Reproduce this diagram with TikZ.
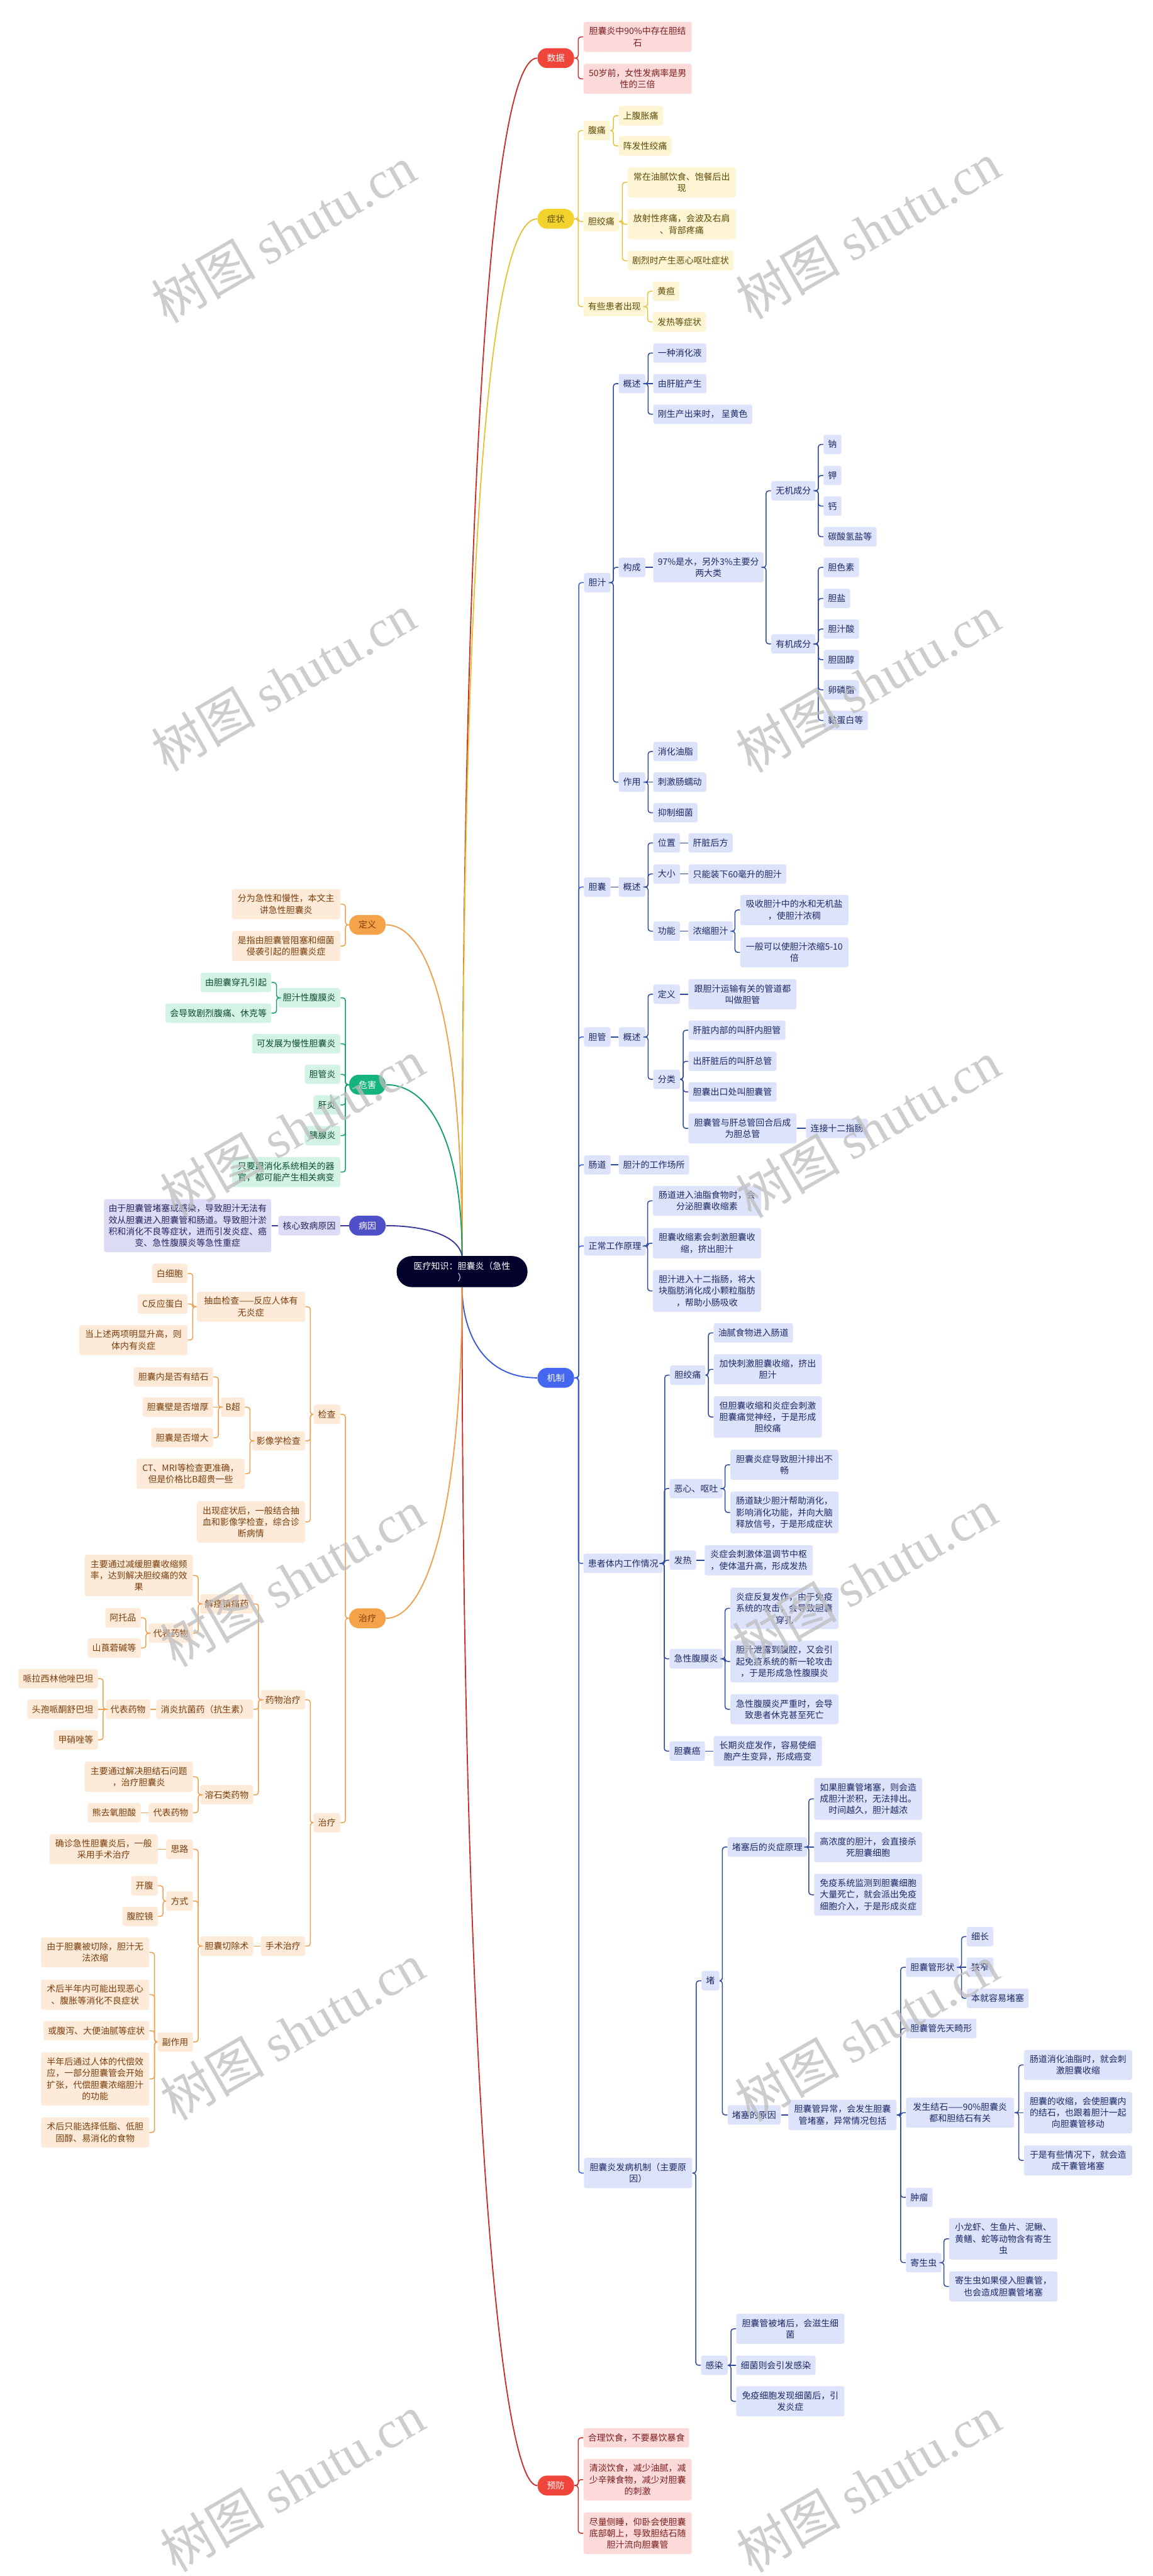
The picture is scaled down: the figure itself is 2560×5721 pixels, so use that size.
\documentclass[tikz,border=0pt]{standalone}
\usepackage{fontspec}
\setmainfont{Noto Sans CJK SC}
\newfontfamily\wmlat{Liberation Serif}
\usetikzlibrary{calc}
\definecolor{rootc}{HTML}{02012B}
\definecolor{redP}{HTML}{F0453A}
\definecolor{redL}{HTML}{C8302C}
\definecolor{redF}{HTML}{FDDADA}
\definecolor{redT}{HTML}{7B1E1E}
\definecolor{yelP}{HTML}{F2D22C}
\definecolor{yelL}{HTML}{E3C33A}
\definecolor{yelF}{HTML}{FDF5D3}
\definecolor{yelT}{HTML}{5E4A05}
\definecolor{bluP}{HTML}{4566EE}
\definecolor{bluL}{HTML}{3A5BD8}
\definecolor{bluD}{HTML}{2D4A9C}
\definecolor{bluF}{HTML}{DCE3FB}
\definecolor{bluT}{HTML}{1C2A66}
\definecolor{orP}{HTML}{F5A34A}
\definecolor{orL}{HTML}{EFA04E}
\definecolor{orF}{HTML}{FDEAD8}
\definecolor{orT}{HTML}{7A3E0C}
\definecolor{grP}{HTML}{14B47C}
\definecolor{grL}{HTML}{12A070}
\definecolor{grF}{HTML}{D3F4E5}
\definecolor{grT}{HTML}{0C4A31}
\definecolor{puP}{HTML}{4F4FC8}
\definecolor{puL}{HTML}{3A3A9E}
\definecolor{puF}{HTML}{DCDCF6}
\definecolor{puT}{HTML}{24245E}
\definecolor{wmc}{HTML}{BDBDBD}
\newcommand\nodefont{\fontsize{5.55pt}{7.25pt}\selectfont}
\newcommand\brR[3]{\foreach \ch in {#3}{\draw[#1] let \p1=(#2.east), \p2=(\ch.west) in (\p1) -- (\x2-3.13pt,\y1) -- (\x2-3.13pt,\y2) -- (\p2);}}
\newcommand\brL[3]{\foreach \ch in {#3}{\draw[#1] let \p1=(#2.west), \p2=(\ch.east) in (\p1) -- (\x2+3.13pt,\y1) -- (\x2+3.13pt,\y2) -- (\p2);}}
\newcommand\stR[3]{\draw[#1] (#2.east) -- (#3.west);}
\newcommand\stL[3]{\draw[#1] (#2.west) -- (#3.east);}
\tikzset{
  nb/.style={font=\nodefont, inner xsep=2.85pt, inner ysep=3.3pt, minimum height=0.43cm, rounded corners=1.3pt, align=center},
  wide/.style={minimum width=2.4cm},
  rN/.style={nb, fill=redF, text=redT},
  yN/.style={nb, fill=yelF, text=yelT},
  bN/.style={nb, fill=bluF, text=bluT},
  oN/.style={nb, fill=orF, text=orT},
  gN/.style={nb, fill=grF, text=grT},
  pN/.style={nb, fill=puF, text=puT},
  pill/.style={font=\nodefont, inner xsep=5.97pt, inner ysep=3.3pt, minimum height=0.44cm, rounded corners=0.21cm},
  rootbox/.style={font=\nodefont, fill=rootc, text=white, inner xsep=10.8pt, inner ysep=3.4pt, rounded corners=0.34cm, align=center, minimum height=0.69cm},
  cv/.style={line width=0.75pt},
  ln/.style={line width=0.6pt, rounded corners=1.7pt},
  wm/.style={text=wmc, text opacity=0.75, rotate=30, inner sep=0pt},
}
\begin{document}
\begin{tikzpicture}[x=0.01cm,y=-0.01cm]
\fill[white] (0,0) rectangle (2560,5721);
\useasboundingbox (0,0) rectangle (2560,5721);

% root
\node[rootbox] (root) at (1026,2824) {医疗知识：胆囊炎（急性\\）};

% level 1 pills
\node[pill, fill=redP, text=white, anchor=west] (sj) at (1193,129) {数据};
\node[pill, fill=yelP, text=yelT, anchor=west] (zz) at (1193,486) {症状};
\node[pill, fill=bluP, text=white, anchor=west] (jz) at (1193,3060) {机制};
\node[pill, fill=redP, text=white, anchor=west] (yf) at (1193,5520) {预防};
\node[pill, fill=orP, text=orT, anchor=east] (dy) at (857,2054) {定义};
\node[pill, fill=grP, text=white, anchor=east] (wh) at (857,2409) {危害};
\node[pill, fill=puP, text=white, anchor=east] (by) at (857,2722) {病因};
\node[pill, fill=orP, text=orT, anchor=east] (zl) at (857,3594) {治疗};

\draw[cv, redL] (root.north) .. controls (1026,1100) and (1090,129) .. (sj.west);
\draw[cv, yelL] (root.north) .. controls (1026,1300) and (1080,486) .. (zz.west);
\draw[cv, bluL] (root.south) .. controls (1026,2940) and (1060,3060) .. (jz.west);
\draw[cv, redL] (root.south) .. controls (1026,4600) and (1110,5520) .. (yf.west);
\draw[cv, orL] (dy.east) .. controls (960,2054) and (1026,2300) .. (root.north);
\draw[cv, grL] (wh.east) .. controls (960,2409) and (1026,2550) .. (root.north);
\draw[cv, puL] (by.east) .. controls (920,2722) and (1015,2735) .. (root.north);
\draw[cv, orL] (zl.east) .. controls (960,3594) and (1026,3300) .. (root.south);

% ===== 数据
\node[rN, wide, anchor=west] (sj1) at (1295,82) {胆囊炎中90\%中存在胆结\\石};
\node[rN, wide, anchor=west] (sj2) at (1295,175) {50岁前，女性发病率是男\\性的三倍};
\brR{ln, redL}{sj}{sj1,sj2}

% ===== 症状
\node[yN, anchor=west] (zz1) at (1295,290) {腹痛};
\node[yN, anchor=west] (zz11) at (1373,257) {上腹胀痛};
\node[yN, anchor=west] (zz12) at (1373,324) {阵发性绞痛};
\node[yN, anchor=west] (zz2) at (1295,492) {胆绞痛};
\node[yN, wide, anchor=west] (zz21) at (1393,405) {常在油腻饮食、饱餐后出\\现};
\node[yN, wide, anchor=west] (zz22) at (1393,498) {放射性疼痛，会波及右肩\\、背部疼痛};
\node[yN, anchor=west] (zz23) at (1393,579) {剧烈时产生恶心呕吐症状};
\node[yN, anchor=west] (zz3) at (1295,681) {有些患者出现};
\node[yN, anchor=west] (zz31) at (1449,647) {黄疸};
\node[yN, anchor=west] (zz32) at (1449,715) {发热等症状};
\brR{ln, yelL}{zz}{zz1,zz2,zz3}
\brR{ln, yelL}{zz1}{zz11,zz12}
\brR{ln, yelL}{zz2}{zz21,zz22,zz23}
\brR{ln, yelL}{zz3}{zz31,zz32}

% ===== 机制 : 胆汁
\node[bN, anchor=west] (dz) at (1296,1294) {胆汁};
\node[bN, anchor=west] (dz1) at (1373,852) {概述};
\node[bN, anchor=west] (dz11) at (1450,784) {一种消化液};
\node[bN, anchor=west] (dz12) at (1450,852) {由肝脏产生};
\node[bN, anchor=west] (dz13) at (1450,920) {刚生产出来时，\ 呈黄色};
\node[bN, anchor=west] (dz2) at (1373,1260) {构成};
\node[bN, wide, anchor=west] (dz21) at (1450,1260) {97\%是水，另外3\%主要分\\两大类};
\node[bN, anchor=west] (wj) at (1712,1090) {无机成分};
\node[bN, anchor=west] (wj1) at (1828,987) {钠};
\node[bN, anchor=west] (wj2) at (1828,1056) {钾};
\node[bN, anchor=west] (wj3) at (1828,1124) {钙};
\node[bN, anchor=west] (wj4) at (1828,1192) {碳酸氢盐等};
\node[bN, anchor=west] (yj) at (1712,1430) {有机成分};
\node[bN, anchor=west] (yj1) at (1828,1260) {胆色素};
\node[bN, anchor=west] (yj2) at (1828,1329) {胆盐};
\node[bN, anchor=west] (yj3) at (1828,1397) {胆汁酸};
\node[bN, anchor=west] (yj4) at (1828,1465) {胆固醇};
\node[bN, anchor=west] (yj5) at (1828,1532) {卵磷脂};
\node[bN, anchor=west] (yj6) at (1828,1600) {黏蛋白等};
\node[bN, anchor=west] (dz3) at (1373,1737) {作用};
\node[bN, anchor=west] (dz31) at (1450,1669) {消化油脂};
\node[bN, anchor=west] (dz32) at (1450,1737) {刺激肠蠕动};
\node[bN, anchor=west] (dz33) at (1450,1805) {抑制细菌};

% 胆囊
\node[bN, anchor=west] (dn) at (1296,1970) {胆囊};
\node[bN, anchor=west] (dn1) at (1373,1970) {概述};
\node[bN, anchor=west] (dn11) at (1450,1872) {位置};
\node[bN, anchor=west] (dn111) at (1528,1872) {肝脏后方};
\node[bN, anchor=west] (dn12) at (1450,1941) {大小};
\node[bN, anchor=west] (dn121) at (1528,1941) {只能装下60毫升的胆汁};
\node[bN, anchor=west] (dn13) at (1450,2068) {功能};
\node[bN, anchor=west] (dn131) at (1528,2068) {浓缩胆汁};
\node[bN, wide, anchor=west] (dn1311) at (1643,2021) {吸收胆汁中的水和无机盐\\，使胆汁浓稠};
\node[bN, wide, anchor=west] (dn1312) at (1643,2115) {一般可以使胆汁浓缩5-10\\倍};

% 胆管
\node[bN, anchor=west] (dg) at (1296,2303) {胆管};
\node[bN, anchor=west] (dg1) at (1373,2303) {概述};
\node[bN, anchor=west] (dg11) at (1450,2208) {定义};
\node[bN, wide, anchor=west] (dg111) at (1528,2208) {跟胆汁运输有关的管道都\\叫做胆管};
\node[bN, anchor=west] (dg12) at (1450,2397) {分类};
\node[bN, anchor=west] (dg121) at (1528,2288) {肝脏内部的叫肝内胆管};
\node[bN, anchor=west] (dg122) at (1528,2357) {出肝脏后的叫肝总管};
\node[bN, anchor=west] (dg123) at (1528,2425) {胆囊出口处叫胆囊管};
\node[bN, wide, anchor=west] (dg124) at (1528,2506) {胆囊管与肝总管回合后成\\为胆总管};
\node[bN, anchor=west] (dg1241) at (1789,2506) {连接十二指肠};

% 肠道, 正常工作原理
\node[bN, anchor=west] (cd) at (1296,2587) {肠道};
\node[bN, anchor=west] (cd1) at (1373,2587) {胆汁的工作场所};
\node[bN, anchor=west] (zc) at (1296,2767) {正常工作原理};
\node[bN, wide, anchor=west] (zc1) at (1449,2667) {肠道进入油脂食物时，会\\分泌胆囊收缩素};
\node[bN, wide, anchor=west] (zc2) at (1449,2761) {胆囊收缩素会刺激胆囊收\\缩，挤出胆汁};
\node[bN, wide, anchor=west] (zc3) at (1449,2867) {胆汁进入十二指肠，将大\\块脂肪消化成小颗粒脂肪\\，帮助小肠吸收};

% 患者体内工作情况
\node[bN, anchor=west] (hz) at (1295,3472) {患者体内工作情况};
\node[bN, anchor=west] (hz1) at (1487,3054) {胆绞痛};
\node[bN, anchor=west] (hz11) at (1584,2960) {油腻食物进入肠道};
\node[bN, wide, anchor=west] (hz12) at (1584,3041) {加快刺激胆囊收缩，挤出\\胆汁};
\node[bN, wide, anchor=west] (hz13) at (1584,3147) {但胆囊收缩和炎症会刺激\\胆囊痛觉神经，于是形成\\胆绞痛};
\node[bN, anchor=west] (hz2) at (1486,3306) {恶心、呕吐};
\node[bN, wide, anchor=west] (hz21) at (1621,3253) {胆囊炎症导致胆汁排出不\\畅};
\node[bN, wide, anchor=west] (hz22) at (1621,3359) {肠道缺少胆汁帮助消化，\\影响消化功能，并向大脑\\释放信号，于是形成症状};
\node[bN, anchor=west] (hz3) at (1486,3465) {发热};
\node[bN, wide, anchor=west] (hz31) at (1564,3465) {炎症会刺激体温调节中枢\\，使体温升高，形成发热};
\node[bN, anchor=west] (hz4) at (1486,3684) {急性腹膜炎};
\node[bN, wide, anchor=west] (hz41) at (1621,3572) {炎症反复发作，由于免疫\\系统的攻击，会导致胆囊\\穿孔};
\node[bN, wide, anchor=west] (hz42) at (1621,3690) {胆汁泄露到腹腔，又会引\\起免疫系统的新一轮攻击\\，于是形成急性腹膜炎};
\node[bN, wide, anchor=west] (hz43) at (1621,3796) {急性腹膜炎严重时，会导\\致患者休克甚至死亡};
\node[bN, anchor=west] (hz5) at (1486,3889) {胆囊癌};
\node[bN, wide, anchor=west] (hz51) at (1584,3889) {长期炎症发作，容易使细\\胞产生变异，形成癌变};

% 胆囊炎发病机制
\node[bN, wide, anchor=west] (fb) at (1296,4826) {胆囊炎发病机制（主要原\\因）};
\node[bN, anchor=west] (fb1) at (1557,4399) {堵};
\node[bN, anchor=west] (fb11) at (1615,4102) {堵塞后的炎症原理};
\node[bN, wide, anchor=west] (fb111) at (1807,3995) {如果胆囊管堵塞，则会造\\成胆汁淤积，无法排出。\\时间越久，胆汁越浓};
\node[bN, wide, anchor=west] (fb112) at (1807,4102) {高浓度的胆汁，会直接杀\\死胆囊细胞};
\node[bN, wide, anchor=west] (fb113) at (1807,4208) {免疫系统监测到胆囊细胞\\大量死亡，就会派出免疫\\细胞介入，于是形成炎症};
\node[bN, anchor=west] (fb12) at (1615,4697) {堵塞的原因};
\node[bN, wide, anchor=west] (fb121) at (1750,4697) {胆囊管异常，会发生胆囊\\管堵塞，异常情况包括};
\node[bN, anchor=west] (fa1) at (2011,4369) {胆囊管形状};
\node[bN, anchor=west] (fa11) at (2146,4301) {细长};
\node[bN, anchor=west] (fa12) at (2146,4369) {狭窄};
\node[bN, anchor=west] (fa13) at (2146,4438) {本就容易堵塞};
\node[bN, anchor=west] (fa2) at (2011,4505) {胆囊管先天畸形};
\node[bN, wide, anchor=west] (fa3) at (2011,4692) {发生结石——90\%胆囊炎\\都和胆结石有关};
\node[bN, wide, anchor=west] (fa31) at (2273,4586) {肠道消化油脂时，就会刺\\激胆囊收缩};
\node[bN, wide, anchor=west] (fa32) at (2273,4692) {胆囊的收缩，会使胆囊内\\的结石，也跟着胆汁一起\\向胆囊管移动};
\node[bN, wide, anchor=west] (fa33) at (2273,4798) {于是有些情况下，就会造\\成干囊管堵塞};
\node[bN, anchor=west] (fa4) at (2011,4880) {肿瘤};
\node[bN, anchor=west] (fa5) at (2011,5025) {寄生虫};
\node[bN, wide, anchor=west] (fa51) at (2107,4972) {小龙虾、生鱼片、泥鳅、\\黄鳝、蛇等动物含有寄生\\虫};
\node[bN, wide, anchor=west] (fa52) at (2107,5078) {寄生虫如果侵入胆囊管，\\也会造成胆囊管堵塞};
\node[bN, anchor=west] (fb2) at (1556,5253) {感染};
\node[bN, wide, anchor=west] (fb21) at (1634,5172) {胆囊管被堵后，会滋生细\\菌};
\node[bN, anchor=west] (fb22) at (1634,5253) {细菌则会引发感染};
\node[bN, wide, anchor=west] (fb23) at (1634,5333) {免疫细胞发现细菌后，引\\发炎症};

% 机制 connectors
\brR{ln, bluL}{jz}{dz,dn,dg,cd,zc,hz,fb}
\brR{ln, bluD}{dz}{dz1,dz2,dz3}
\brR{ln, bluD}{dz1}{dz11,dz13}
\stR{ln, bluD}{dz1}{dz12}
\stR{ln, bluD}{dz2}{dz21}
\brR{ln, bluD}{dz21}{wj,yj}
\brR{ln, bluD}{wj}{wj1,wj2,wj3,wj4}
\brR{ln, bluD}{yj}{yj1,yj2,yj3,yj4,yj5,yj6}
\brR{ln, bluD}{dz3}{dz31,dz33}
\stR{ln, bluD}{dz3}{dz32}
\stR{ln, bluD}{dn}{dn1}
\brR{ln, bluD}{dn1}{dn11,dn12,dn13}
\stR{ln, bluD}{dn11}{dn111}
\stR{ln, bluD}{dn12}{dn121}
\stR{ln, bluD}{dn13}{dn131}
\brR{ln, bluD}{dn131}{dn1311,dn1312}
\stR{ln, bluD}{dg}{dg1}
\brR{ln, bluD}{dg1}{dg11,dg12}
\stR{ln, bluD}{dg11}{dg111}
\brR{ln, bluD}{dg12}{dg121,dg122,dg123,dg124}
\stR{ln, bluD}{dg124}{dg1241}
\stR{ln, bluD}{cd}{cd1}
\brR{ln, bluD}{zc}{zc1,zc2,zc3}
\brR{ln, bluD}{hz}{hz1,hz2,hz3,hz4,hz5}
\brR{ln, bluD}{hz1}{hz11,hz12,hz13}
\brR{ln, bluD}{hz2}{hz21,hz22}
\stR{ln, bluD}{hz3}{hz31}
\brR{ln, bluD}{hz4}{hz41,hz42,hz43}
\stR{ln, bluD}{hz5}{hz51}
\brR{ln, bluD}{fb}{fb1,fb2}
\brR{ln, bluD}{fb1}{fb11,fb12}
\brR{ln, bluD}{fb11}{fb111,fb113}
\stR{ln, bluD}{fb11}{fb112}
\stR{ln, bluD}{fb12}{fb121}
\brR{ln, bluD}{fb121}{fa1,fa2,fa3,fa4,fa5}
\brR{ln, bluD}{fa1}{fa11,fa13}
\stR{ln, bluD}{fa1}{fa12}
\brR{ln, bluD}{fa3}{fa31,fa33}
\stR{ln, bluD}{fa3}{fa32}
\brR{ln, bluD}{fa5}{fa51,fa52}
\brR{ln, bluD}{fb2}{fb21,fb23}
\stR{ln, bluD}{fb2}{fb22}

% ===== 预防
\node[rN, anchor=west] (yf1) at (1295,5414) {合理饮食，不要暴饮暴食};
\node[rN, wide, anchor=west] (yf2) at (1295,5507) {清淡饮食，减少油腻，减\\少辛辣食物，减少对胆囊\\的刺激};
\node[rN, wide, anchor=west] (yf3) at (1295,5626) {尽量侧睡，仰卧会使胆囊\\底部朝上，导致胆结石随\\胆汁流向胆囊管};
\brR{ln, redL}{yf}{yf1,yf2,yf3}

% ===== 定义
\node[oN, wide, anchor=east] (dy1) at (756,2008) {分为急性和慢性，本文主\\讲急性胆囊炎};
\node[oN, wide, anchor=east] (dy2) at (756,2101) {是指由胆囊管阻塞和细菌\\侵袭引起的胆囊炎症};
\brL{ln, orL}{dy}{dy1,dy2}

% ===== 危害
\node[gN, anchor=east] (wh1) at (756,2216) {胆汁性腹膜炎};
\node[gN, anchor=east] (wh11) at (603,2182) {由胆囊穿孔引起};
\node[gN, anchor=east] (wh12) at (603,2250) {会导致剧烈腹痛、休克等};
\node[gN, anchor=east] (wh2) at (756,2318) {可发展为慢性胆囊炎};
\node[gN, anchor=east] (wh3) at (756,2386) {胆管炎};
\node[gN, anchor=east] (wh4) at (756,2454) {肝炎};
\node[gN, anchor=east] (wh5) at (756,2522) {胰腺炎};
\node[gN, wide, anchor=east] (wh6) at (756,2603) {只要跟消化系统相关的器\\官，都可能产生相关病变};
\brL{ln, grL}{wh}{wh1,wh2,wh3,wh4,wh5,wh6}
\brL{ln, grL}{wh1}{wh11,wh12}

% ===== 病因
\node[pN, anchor=east] (by1) at (756,2722) {核心致病原因};
\node[pN, anchor=east] (by11) at (603,2722) {由于胆囊管堵塞或感染，导致胆汁无法有\\效从胆囊进入胆囊管和肠道。导致胆汁淤\\积和消化不良等症状，进而引发炎症、癌\\变、急性腹膜炎等急性重症};
\stL{ln, puL}{by}{by1}
\stL{ln, puL}{by1}{by11}

% ===== 治疗 (left)
\node[oN, anchor=east] (jc) at (756,3141) {检查};
\node[oN, wide, anchor=east] (jc1) at (678,2902) {抽血检查——反应人体有\\无炎症};
\node[oN, anchor=east] (jc11) at (417,2828) {白细胞};
\node[oN, anchor=east] (jc12) at (417,2896) {C反应蛋白};
\node[oN, wide, anchor=east] (jc13) at (417,2976) {当上述两项明显升高，则\\体内有炎症};
\node[oN, anchor=east] (jc2) at (678,3200) {影像学检查};
\node[oN, anchor=east] (jc21) at (544,3125) {B超};
\node[oN, anchor=east] (jc211) at (474,3058) {胆囊内是否有结石};
\node[oN, anchor=east] (jc212) at (474,3125) {胆囊壁是否增厚};
\node[oN, anchor=east] (jc213) at (474,3193) {胆囊是否增大};
\node[oN, wide, anchor=east] (jc22) at (544,3273) {CT、MRI等检查更准确，\\但是价格比B超贵一些};
\node[oN, wide, anchor=east] (jc3) at (678,3380) {出现症状后，一般结合抽\\血和影像学检查，综合诊\\断病情};

\node[oN, anchor=east] (zl2) at (756,4048) {治疗};
\node[oN, anchor=east] (yw) at (678,3775) {药物治疗};
\node[oN, anchor=east] (yw1) at (563,3562) {解痉镇痛药};
\node[oN, wide, anchor=east] (yw11) at (429,3499) {主要通过减缓胆囊收缩频\\率，达到解决胆绞痛的效\\果};
\node[oN, anchor=east] (yw12) at (429,3627) {代表药物};
\node[oN, anchor=east] (yw121) at (313,3593) {阿托品};
\node[oN, anchor=east] (yw122) at (313,3660) {山莨菪碱等};
\node[oN, anchor=east] (yw2) at (563,3796) {消炎抗菌药（抗生素）};
\node[oN, anchor=east] (yw21) at (334,3796) {代表药物};
\node[oN, anchor=east] (yw211) at (218,3728) {哌拉西林他唑巴坦};
\node[oN, anchor=east] (yw212) at (218,3796) {头孢哌酮舒巴坦};
\node[oN, anchor=east] (yw213) at (218,3864) {甲硝唑等};
\node[oN, anchor=east] (yw3) at (563,3986) {溶石类药物};
\node[oN, wide, anchor=east] (yw31) at (429,3946) {主要通过解决胆结石问题\\，治疗胆囊炎};
\node[oN, anchor=east] (yw32) at (429,4026) {代表药物};
\node[oN, anchor=east] (yw321) at (313,4026) {熊去氧胆酸};
\node[oN, anchor=east] (ss) at (678,4322) {手术治疗};
\node[oN, anchor=east] (ss1) at (563,4322) {胆囊切除术};
\node[oN, anchor=east] (ss11) at (429,4107) {思路};
\node[oN, wide, anchor=east] (ss111) at (351,4107) {确诊急性胆囊炎后，一般\\采用手术治疗};
\node[oN, anchor=east] (ss12) at (429,4222) {方式};
\node[oN, anchor=east] (ss121) at (351,4188) {开腹};
\node[oN, anchor=east] (ss122) at (351,4256) {腹腔镜};
\node[oN, anchor=east] (ss13) at (429,4535) {副作用};
\node[oN, wide, anchor=east] (ss131) at (332,4336) {由于胆囊被切除，胆汁无\\法浓缩};
\node[oN, wide, anchor=east] (ss132) at (332,4430) {术后半年内可能出现恶心\\、腹胀等消化不良症状};
\node[oN, anchor=east] (ss133) at (332,4510) {或腹泻、大便油腻等症状};
\node[oN, wide, anchor=east] (ss134) at (332,4617) {半年后通过人体的代偿效\\应，一部分胆囊管会开始\\扩张，代偿胆囊浓缩胆汁\\的功能};
\node[oN, wide, anchor=east] (ss135) at (332,4736) {术后只能选择低脂、低胆\\固醇、易消化的食物};

\brL{ln, orL}{zl}{jc,zl2}
\brL{ln, orL}{jc}{jc1,jc2,jc3}
\brL{ln, orL}{jc1}{jc11,jc12,jc13}
\brL{ln, orL}{jc2}{jc21,jc22}
\brL{ln, orL}{jc21}{jc211,jc213}
\stL{ln, orL}{jc21}{jc212}
\brL{ln, orL}{zl2}{yw,ss}
\brL{ln, orL}{yw}{yw1,yw2,yw3}
\brL{ln, orL}{yw1}{yw11,yw12}
\brL{ln, orL}{yw12}{yw121,yw122}
\stL{ln, orL}{yw2}{yw21}
\brL{ln, orL}{yw21}{yw211,yw213}
\stL{ln, orL}{yw21}{yw212}
\brL{ln, orL}{yw3}{yw31,yw32}
\stL{ln, orL}{yw32}{yw321}
\stL{ln, orL}{ss}{ss1}
\brL{ln, orL}{ss1}{ss11,ss12,ss13}
\stL{ln, orL}{ss11}{ss111}
\brL{ln, orL}{ss12}{ss121,ss122}
\brL{ln, orL}{ss13}{ss131,ss132,ss133,ss134,ss135}

% watermarks
\foreach \wx/\wy/\wn in {630/520/a1,630/1515/a2,649/2505/a3,649/3505/a4,649/4512/a5,649/5515/a6,
  1927/512/b1,1927/1518/b2,1927/2508/b3,1920/3502/b4,1925/4515/b5,1929/5516/b6}{
  \node[wm] (wm\wn) at (\wx,\wy) {\fontsize{33pt}{33pt}\selectfont 树图 {\wmlat shutu.cn}};
}
\end{tikzpicture}
\end{document}
